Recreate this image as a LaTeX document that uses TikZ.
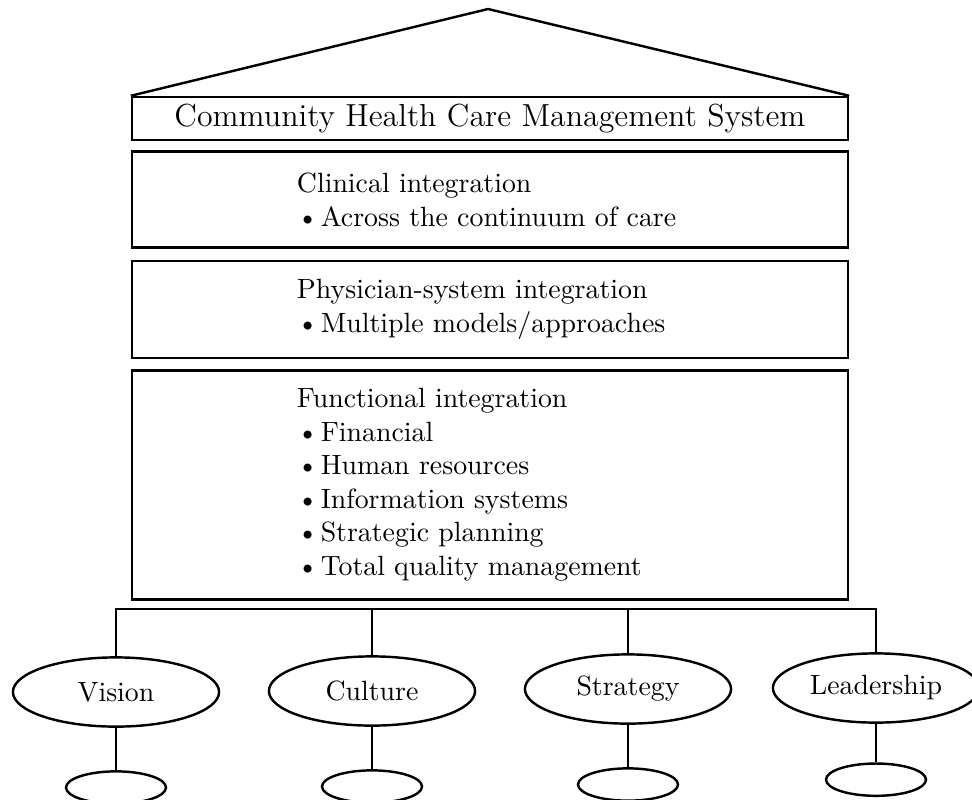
\documentclass[tikz,border=0pt]{standalone}
\usetikzlibrary{positioning}
\usetikzlibrary{shapes.geometric}

\tikzset{
  layer/.style={rectangle, draw, line width=0.9pt, minimum width=9.308cm, inner sep=0pt},
  pillar/.style={ellipse, draw, line width=0.9pt, minimum width=2.68cm, minimum height=0.9cm, inner sep=0pt},
  base/.style={ellipse, draw, line width=0.9pt, minimum width=1.3cm, minimum height=0.42cm, inner sep=0pt},
  link/.style={line width=0.9pt}
}
\newcommand{\pt}{\makebox[0.31cm][l]{\textbullet}}

\begin{document}
\begin{tikzpicture}[x=0.013cm, y=-0.013cm, font=\fontsize{10.3}{12.4}\selectfont]

    \useasboundingbox (0,0) rectangle (972,799);

    % Roof and layers
    \node[layer, minimum height=0.559cm, font=\fontsize{11.8}{14}\selectfont] (title) at (490,118.5) {Community Health Care Management System};
    \coordinate (apex) at (488,9);
    \draw[link] (title.north west) -- (apex) -- (title.north east);

    \node[layer, minimum height=1.248cm, below=0.12cm of title, text width=5.02cm, align=left] (clinical)
      {Clinical integration\\ \pt Across the continuum of care};
    \node[layer, minimum height=1.261cm, below=0.14cm of clinical, text width=5.02cm, align=left] (physician)
      {Physician-system integration\\ \pt Multiple models/approaches};
    \node[layer, minimum height=2.977cm, below=0.13cm of physician, text width=5.02cm, align=left] (functional)
      {Functional integration\\ \pt Financial\\ \pt Human resources\\ \pt Information systems\\
       \pt Strategic planning\\ \pt Total quality management};

    % Pillars
    \node[pillar] (vision) at (116,692) {Vision};
    \node[pillar] (culture) at (372,691) {Culture};
    \node[pillar] (strategy) at (628,689) {Strategy};
    \node[pillar] (leadership) at (876,688) {Leadership};

    \node[base, below=0.55cm of vision] (visionbase) {};
    \node[base, below=0.55cm of culture] (culturebase) {};
    \node[base, below=0.55cm of strategy] (strategybase) {};
    \node[base, below=0.5cm of leadership] (leadershipbase) {};

    % Connectors
    \coordinate (bus) at (490,609);
    \draw[link] (vision.north) -- (vision.north |- bus) -- (leadership.north |- bus) -- (leadership.north);
    \draw[link] (culture.north) -- (culture.north |- bus);
    \draw[link] (strategy.north) -- (strategy.north |- bus);

    \draw[link] (vision.south) -- (visionbase.north);
    \draw[link] (culture.south) -- (culturebase.north);
    \draw[link] (strategy.south) -- (strategybase.north);
    \draw[link] (leadership.south) -- (leadershipbase.north);

\end{tikzpicture}
\end{document}
